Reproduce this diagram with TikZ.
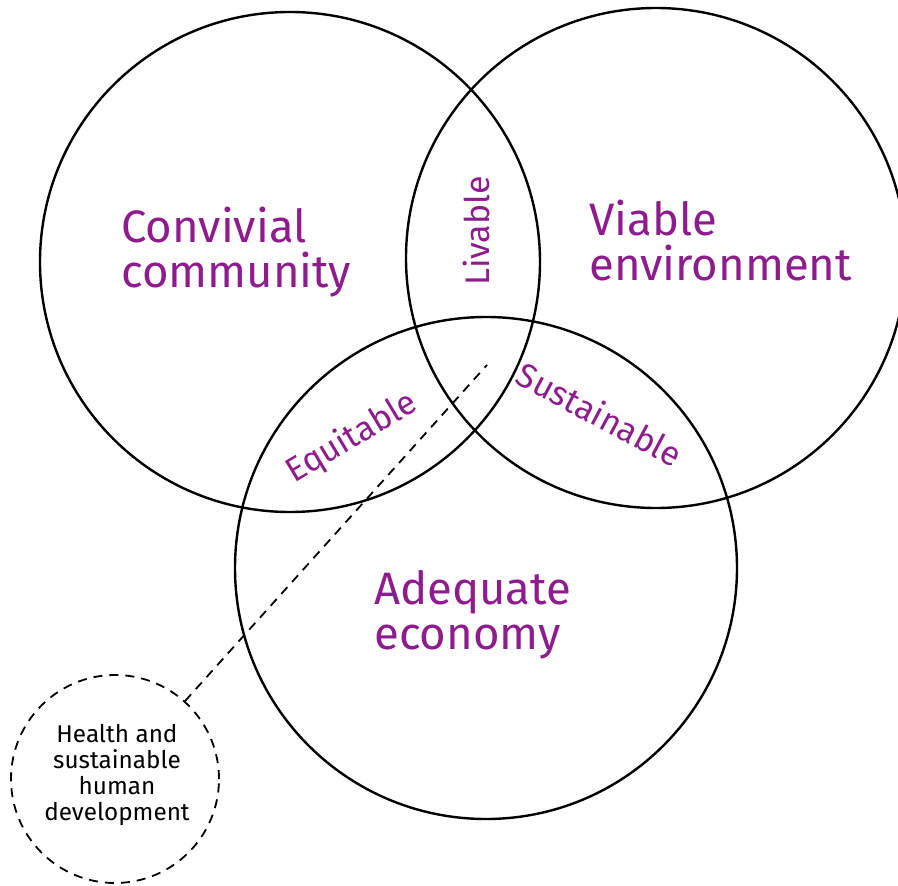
\documentclass[tikz,border=0pt]{standalone}
\usepackage{fontspec}
\setmainfont{Fira Sans}
\definecolor{vpurple}{RGB}{142,28,142}
\begin{document}
\begin{tikzpicture}[x=1pt,y=-1pt,
  ring/.style={circle,draw=black,line width=2.4pt,inner sep=0pt,outer sep=0pt,minimum size=#1},
  bigtxt/.style={text=vpurple,font=\fontsize{45.5}{44.5}\selectfont,align=left,inner sep=0pt},
  midtxt/.style={text=vpurple,font=\fontsize{34}{36}\selectfont,inner sep=0pt},
  smalltxt/.style={font=\fontsize{24.3}{26.3}\selectfont,align=center,inner sep=0pt},
  dashring/.style={circle,draw=black,line width=1.8pt,dash pattern=on 9pt off 7pt,inner sep=0pt,minimum size=208pt}]
\useasboundingbox (0,0) rectangle (898,886);
\clip (0,0) rectangle (898,886);
\node[ring=500pt] (cc) at (290,262) {};
\node[ring=500pt] (ve) at (656,258) {};
\node[ring=502pt] (ae) at (486,568) {};
\node[dashring] (hd) at (115,779) {};
\coordinate (tip) at (487,365);
\draw[line width=1.8pt,dash pattern=on 9pt off 7pt] (hd) -- (tip);
\node[bigtxt,anchor=base west] (t1) at (121,287) {Convivial\\community};
\node[bigtxt,anchor=base west] (t2) at (589,280) {Viable\\environment};
\node[bigtxt,anchor=base west] (t3) at (374,649) {Adequate\\economy};
\node[midtxt,rotate=90] (t4) at (476,231) {Livable};
\node[midtxt,rotate=31] (t5) at (352,438) {Equitable};
\node[midtxt,rotate=-28] (t6) at (600,414) {Sustainable};
\node[smalltxt] (t7) at (117,775) {Health and\\sustainable\\human\\development};
\end{tikzpicture}
\end{document}
